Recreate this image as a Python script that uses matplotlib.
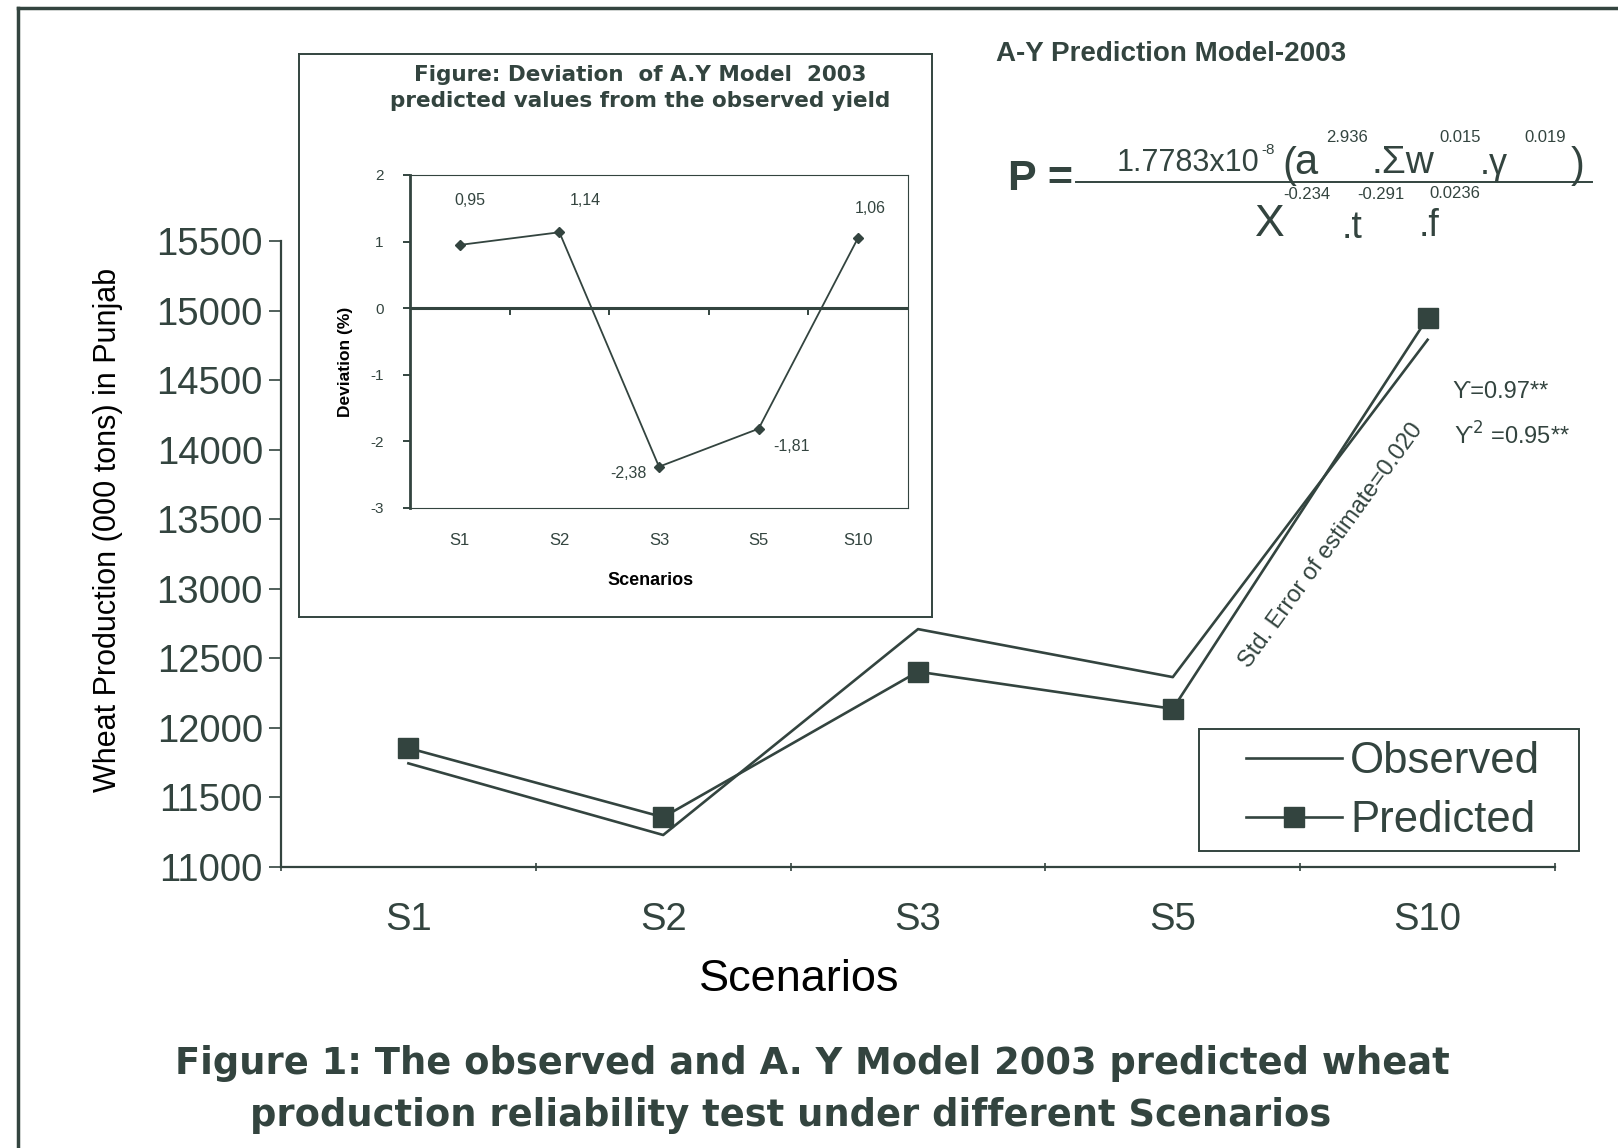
import matplotlib
matplotlib.use("Agg")
import matplotlib.pyplot as plt
from matplotlib.lines import Line2D
from matplotlib.patches import Rectangle
from matplotlib.ticker import FixedLocator

# data
scenarios = ["S1", "S2", "S3", "S5", "S10"]
observed = [11745, 11230, 12710, 12365, 14790]
predicted = [11855, 11358, 12404, 12137, 14947]
deviation = [0.95, 1.14, -2.38, -1.81, 1.06]
dev_labels = ["0,95", "1,14", "-2,38", "-1,81", "1,06"]
y_ticks = list(range(11000, 15501, 500))
dev_ticks = [-3, -2, -1, 0, 1, 2]

W, H = 1618, 1148
INK = "#33443f"
plt.rcParams["font.family"] = ["Liberation Sans", "DejaVu Sans"]
plt.rcParams["text.color"] = INK
plt.rcParams["axes.edgecolor"] = INK
plt.rcParams["xtick.color"] = INK
plt.rcParams["ytick.color"] = INK


def fx(x):
    return x / W


def fy(y):
    return 1 - y / H


def ftext(x, y, s, **kw):
    fig.text(fx(x), fy(y), s, **kw)


fig = plt.figure(figsize=(W / 100, H / 100), dpi=100)

# main chart
ax = fig.add_axes([fx(281), fy(867), fx(1555) - fx(281), fy(241) - fy(867)])
x = list(range(len(scenarios)))
ax.plot(x, observed, color=INK, lw=1.9, label="Observed")
ax.plot(x, predicted, color=INK, lw=1.9, marker="s", markersize=14,
        label="Predicted")
ax.set_xlim(-0.5, 4.5)
ax.set_ylim(11000, 15500)
ax.set_yticks(y_ticks)
ax.set_yticklabels([str(v) for v in y_ticks], fontsize=27.5)
ax.set_xticks(x)
ax.set_xticklabels(scenarios, fontsize=27.5)
ax.xaxis.set_minor_locator(FixedLocator([-0.5, 0.5, 1.5, 2.5, 3.5, 4.5]))
ax.tick_params(axis="x", which="major", length=0, pad=25)
ax.tick_params(axis="x", which="minor", length=6, direction="inout", width=1.2)
ax.tick_params(axis="y", length=9, width=1.2, pad=4)
for s in ["top", "right"]:
    ax.spines[s].set_visible(False)
ax.spines["left"].set_linewidth(1.6)
ax.spines["bottom"].set_linewidth(1.6)
ax.set_xlabel("Scenarios", fontsize=32.5, labelpad=15)
ax.xaxis.label.set_x(0.407)
ax.set_ylabel("Wheat Production (000 tons) in Punjab", fontsize=22,
              labelpad=24)
ax.yaxis.label.set_y(0.538)
leg = ax.legend(loc="upper left", bbox_to_anchor=(fx(1246), fy(741)),
                bbox_transform=fig.transFigure, fontsize=31.5, frameon=False,
                handlelength=2.2, handletextpad=0.18, labelspacing=0.42,
                borderpad=0, borderaxespad=0)
fig.add_artist(Rectangle((fx(1199), fy(851)), fx(1579) - fx(1199),
                         fy(729) - fy(851), transform=fig.transFigure,
                         fill=False, edgecolor=INK, lw=1.4))

# inset box and chart
box = fig.add_axes([fx(299), fy(617), fx(932) - fx(299), fy(54) - fy(617)])
box.set_xticks([])
box.set_yticks([])
for sp in box.spines.values():
    sp.set_linewidth(1.4)
box.set_zorder(2)

ins = fig.add_axes([fx(410), fy(508), fx(908) - fx(410), fy(175) - fy(508)])
ins.set_zorder(3)
ins.patch.set_alpha(0)
ins.plot(x, deviation, color=INK, lw=1.3, marker="D", markersize=5)
ins.axhline(0, color=INK, lw=2.2)
ins.set_xlim(-0.5, 4.5)
ins.set_ylim(-3, 2)
ins.set_yticks(dev_ticks)
ins.set_yticklabels([str(v) for v in dev_ticks], fontsize=11)
ins.set_xticks(x)
ins.set_xticklabels(scenarios, fontsize=12)
ins.tick_params(axis="x", length=0, pad=18)
ins.tick_params(axis="y", length=5, width=1.4, pad=14)
for s in ["top", "right", "bottom"]:
    ins.spines[s].set_linewidth(0.8)
ins.spines["left"].set_linewidth(2.0)
for b in [0.5, 1.5, 2.5, 3.5]:
    ins.plot([b, b], [0, -0.08], color=INK, lw=1.4)
ins.set_xlabel("Scenarios", fontsize=13, fontweight="bold", labelpad=17)
ins.xaxis.label.set_x(0.482)
ins.set_ylabel("Deviation (%)", fontsize=12.5, fontweight="bold", labelpad=12)
ins.yaxis.label.set_y(0.438)
offsets = [(7, 32), (19, 23), (-22, -5), (24, -13), (9, 21)]
for i, (lab, off) in enumerate(zip(dev_labels, offsets)):
    ins.annotate(lab, (x[i], deviation[i]), xytext=off, textcoords="offset points",
                 ha="center", va="center", fontsize=11.5)

ftext(640, 75, "Figure: Deviation  of A.Y Model  2003", ha="center", va="center",
      fontsize=15.5, fontweight="bold", family="DejaVu Sans")
ftext(640, 101, "predicted values from the observed yield", ha="center",
      va="center", fontsize=15.5, fontweight="bold", family="DejaVu Sans")

# model title and formula
ftext(996, 54, "A-Y Prediction Model-2003", ha="left", va="center", fontsize=20,
      fontweight="bold")
ftext(1041, 179, "P =", ha="center", va="center", fontsize=31, fontweight="bold")
fig.add_artist(Line2D([fx(1076), fx(1592)], [fy(182), fy(182)], color=INK, lw=1.4))
formula_parts = [
    (1188, 163, "1.7783x10", 22),
    (1268, 150, "-8", 11),
    (1289, 166, "(", 30),
    (1306, 163, "a", 30),
    (1347, 137, "2.936", 12),
    (1403, 163, ".\u03a3w", 28),
    (1460, 137, "0.015", 12),
    (1494, 165, ".\u03b3", 26),
    (1545, 137, "0.019", 12),
    (1578, 166, ")", 30),
    (1270, 224, "X", 32),
    (1307, 194, "-0.234", 12),
    (1352, 228, ".t", 27),
    (1381, 194, "-0.291", 12),
    (1429, 226, ".f", 27),
    (1455, 193, "0.0236", 12),
]
for px, py, s, size in formula_parts:
    ftext(px, py, s, ha="center", va="center", fontsize=size)

# statistics
ftext(1452, 392, "\u03d2=0.97**", ha="left", va="center", fontsize=17)
ftext(1454, 436, "\u03d2$^{2}$ =0.95**", ha="left", va="center", fontsize=17)
ftext(1331, 546, "Std. Error of estimate=0.020", ha="center", va="center",
      fontsize=17, rotation=54)

# caption
ftext(812, 1063, "Figure 1: The observed and A. Y Model 2003 predicted wheat",
      ha="center", va="center", fontsize=26.6, fontweight="bold",
      family="DejaVu Sans")
ftext(791, 1115, "production reliability test under different Scenarios",
      ha="center", va="center", fontsize=26.6, fontweight="bold",
      family="DejaVu Sans")

# page frame
fig.add_artist(Line2D([fx(18), fx(18)], [fy(8), 0], color=INK, lw=2.5))
fig.add_artist(Line2D([fx(18), 1], [fy(8), fy(8)], color=INK, lw=2.5))

fig.savefig("out.png", dpi=100)
